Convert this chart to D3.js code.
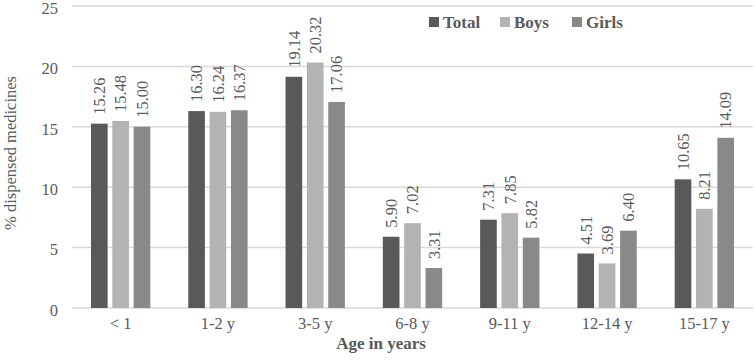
<!DOCTYPE html>
<html>
<head>
<meta charset="utf-8">
<script src="https://cdn.jsdelivr.net/npm/d3@7"></script>
<style>
  body { margin: 0; background: #fff; }
  text { font-family: "Liberation Serif", "Times New Roman", serif; fill: #595959; }
</style>
</head>
<body>
<div id="chart"></div>
<script>
// Chart data
const ageGroups = ["< 1", "1-2 y", "3-5 y", "6-8 y", "9-11 y", "12-14 y", "15-17 y"];
const seriesNames = ["Total", "Boys", "Girls"];
const totalValues = [15.26, 16.30, 19.14, 5.90, 7.31, 4.51, 10.65];
const boysValues = [15.48, 16.24, 20.32, 7.02, 7.85, 3.69, 8.21];
const girlsValues = [15.00, 16.37, 17.06, 3.31, 5.82, 6.40, 14.09];
const yTicks = [0, 5, 10, 15, 20, 25];

const seriesValues = [totalValues, boysValues, girlsValues];
const colors = ["#595959", "#b3b3b3", "#898989"];
const serif = '"Liberation Serif", "Times New Roman", serif';

const width = 754, height = 360;
const margin = {top: 6, right: 1, bottom: 52, left: 72};

const svg = d3.select("#chart")
    .append("svg")
    .attr("width", width)
    .attr("height", height);

const x = d3.scaleBand()
    .domain(ageGroups)
    .range([margin.left, width - margin.right])
    .paddingInner(0.39)
    .paddingOuter(0.195);

const xSub = d3.scaleBand()
    .domain(seriesNames)
    .range([0, x.bandwidth()])
    .paddingInner(0.22);

const y = d3.scaleLinear()
    .domain([0, 25])
    .range([height - margin.bottom, margin.top]);

// Gridlines
svg.append("g")
    .selectAll("line")
    .data(yTicks)
    .enter()
    .append("line")
    .attr("x1", margin.left)
    .attr("x2", width - margin.right)
    .attr("y1", d => y(d))
    .attr("y2", d => y(d))
    .attr("stroke", "#d9d9d9")
    .attr("stroke-width", 1.5);

// Y axis labels
svg.append("g")
    .attr("transform", `translate(${margin.left - 14},2)`)
    .call(d3.axisLeft(y).tickValues(yTicks).tickSize(0).tickPadding(0))
    .call(g => g.select(".domain").remove())
    .selectAll("text")
    .style("font-family", serif)
    .style("font-size", "16.5px")
    .attr("fill", "#595959");

// X axis labels
svg.append("g")
    .attr("transform", `translate(0,${y(0) + 9})`)
    .call(d3.axisBottom(x).tickSize(0).tickPadding(0))
    .call(g => g.select(".domain").remove())
    .selectAll("text")
    .style("font-family", serif)
    .style("font-size", "16.5px")
    .attr("fill", "#595959");

// Bars and value labels
const groups = svg.append("g")
    .selectAll("g")
    .data(ageGroups)
    .enter()
    .append("g")
    .attr("transform", d => `translate(${x(d)},0)`);

seriesNames.forEach((name, s) => {
    groups.append("rect")
        .attr("x", xSub(name))
        .attr("y", (d, i) => y(seriesValues[s][i]))
        .attr("width", xSub.bandwidth())
        .attr("height", (d, i) => y(0) - y(seriesValues[s][i]))
        .attr("fill", colors[s]);

    groups.append("text")
        .attr("transform", (d, i) =>
            `translate(${xSub(name) + xSub.bandwidth() / 2},${y(seriesValues[s][i]) - 9}) rotate(-90)`)
        .attr("dy", "0.35em")
        .style("font-size", "16.5px")
        .text((d, i) => seriesValues[s][i].toFixed(2));
});

// Legend
const legendX = [429, 500, 572];
const legend = svg.append("g")
    .selectAll("g")
    .data(seriesNames)
    .enter()
    .append("g")
    .attr("transform", (d, i) => `translate(${legendX[i]},22)`);

legend.append("rect")
    .attr("x", 0)
    .attr("y", -5)
    .attr("width", 10)
    .attr("height", 10)
    .attr("fill", (d, i) => colors[i]);

legend.append("text")
    .attr("x", 14)
    .attr("dy", "0.35em")
    .style("font-size", "17px")
    .style("font-weight", "bold")
    .text(d => d);

// Axis titles
svg.append("text")
    .attr("transform", `translate(10,153) rotate(-90)`)
    .attr("text-anchor", "middle")
    .attr("dy", "0.35em")
    .style("font-size", "16.5px")
    .text("% dispensed medicines");

svg.append("text")
    .attr("x", 381)
    .attr("y", 349)
    .attr("text-anchor", "middle")
    .style("font-size", "17px")
    .style("font-weight", "bold")
    .text("Age in years");
</script>
</body>
</html>
